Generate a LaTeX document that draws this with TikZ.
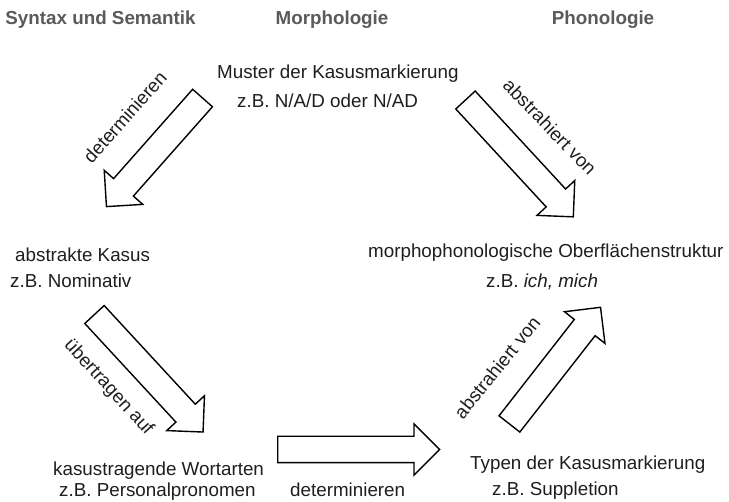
\documentclass[tikz,border=0pt]{standalone}
\usepackage{fontspec}
\setmainfont{Liberation Sans}
\usetikzlibrary{shapes.arrows}
\definecolor{head}{HTML}{5A5A5A}
\definecolor{ink}{HTML}{1E1E1E}
\tikzset{
  hd/.style={text=head, font=\fontsize{18.8}{22}\selectfont\bfseries, anchor=base, inner sep=0pt},
  txt/.style={text=ink, font=\fontsize{18.8}{22}\selectfont, anchor=base west, inner sep=0pt},
  rlab/.style={text=ink, font=\fontsize{18.8}{22}\selectfont, inner sep=0pt},
  blk/.style={single arrow, draw=black, fill=white, line width=1.4pt, inner xsep=0pt, inner ysep=12.5pt,
    single arrow head extend=12.5pt, single arrow tip angle=90,
    sloped, allow upside down, pos=0, anchor=tail},
}

\begin{document}
\begin{tikzpicture}[x=1pt, y=-1pt]
  \useasboundingbox (0,0) rectangle (729,502);

  % headers
  \node[hd] (syn) at (100.5,25) {Syntax und Semantik};
  \node[hd] (mor) at (332,25) {Morphologie};
  \node[hd] (pho) at (603,25) {Phonologie};

  % texts
  \node[txt] (muster) at (217,79) {Muster der Kasusmarkierung};
  \node[txt] (musterbsp) at (237,108) {z.B. N/A/D oder N/AD};
  \node[txt] (kasus) at (15,262) {abstrakte Kasus};
  \node[txt] (kasusbsp) at (10,288) {z.B. Nominativ};
  \node[txt] (ofl) at (368,258) {morphophonologische Oberflächenstruktur};
  \node[txt] (oflbsp) at (486,288) {z.B. \textit{ich, mich}};
  \node[txt] (wort) at (53,476) {kasustragende Wortarten};
  \node[txt] (wortbsp) at (59,497) {z.B. Personalpronomen};
  \node[txt] (typ) at (470,470) {Typen der Kasusmarkierung};
  \node[txt] (typbsp) at (492,496) {z.B. Suppletion};

  % arrows
  \coordinate (t1) at (203,97.5);  \coordinate (p1) at (107,206);
  \coordinate (t2) at (465,99.5);  \coordinate (p2) at (573,216.5);
  \coordinate (t3) at (94,314);    \coordinate (p3) at (203,432);
  \coordinate (t4) at (277,449.5); \coordinate (p4) at (439,449.5);
  \coordinate (t5) at (509,424.5); \coordinate (p5) at (600,308);

  \path (t1) -- node[blk, minimum height=145pt] (a1) {} (p1);
  \path (t2) -- node[blk, minimum height=159pt] (a2) {} (p2);
  \path (t3) -- node[blk, minimum height=160pt] (a3) {} (p3);
  \path (t4) -- node[blk, minimum height=162pt] (a4) {} (p4);
  \path (t5) -- node[blk, minimum height=148pt] (a5) {} (p5);

  % arrow labels
  \node[rlab, rotate=48.5] (l1) at (125,117) {determinieren};
  \node[rlab, rotate=-46] (l2) at (550,127) {abstrahiert von};
  \node[rlab, rotate=-47.5] (l3) at (108.5,387.5) {übertragen auf};
  \node[txt] (l4) at (290,497) {determinieren};
  \node[rlab, rotate=51] (l5) at (497,367.5) {abstrahiert von};
\end{tikzpicture}
\end{document}
